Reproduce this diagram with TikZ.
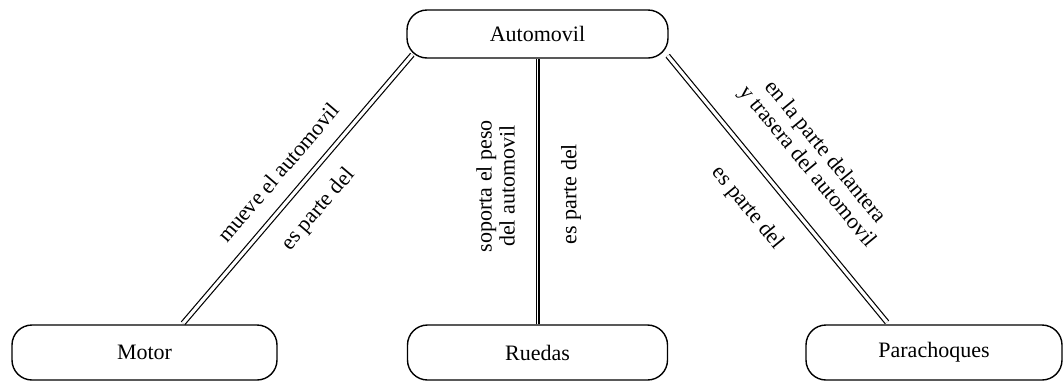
\documentclass[tikz,border=0pt]{standalone}
\usepackage{fontspec}
\setmainfont{Liberation Serif}
\usetikzlibrary{calc}
\begin{document}
\begin{tikzpicture}[x=1pt,y=-1pt,
  concept/.style={draw, line width=1.4pt, rounded corners=20pt, inner sep=0pt,
    minimum height=55pt, font=\fontsize{22}{26}\selectfont},
  link/.style={double, line width=1.2pt, double distance=3.2pt},
  lbl/.style={sloped, inner sep=0pt, align=center, font=\fontsize{22}{23}\selectfont}]
\useasboundingbox (0,0) rectangle (1063,381);

% concepts
\node[concept, minimum width=261pt, minimum height=48pt] (auto) at (537.5,34) {Automovil};
\node[concept, minimum width=265pt] (motor) at (144.5,352.5) {Motor};
\node[concept, minimum width=260pt] (ruedas) at (537.5,352.5) {Ruedas};
\node[concept, minimum width=256pt] (parach) at (934,352.5) {Parachoques};

% relations
\draw[link] ($(motor.north)+(38.5,-1)$)
  -- node[lbl, pos=0.5, above=17pt] {mueve el automovil}
     node[lbl, pos=0.494, below=19pt] {es parte del}
  ($(auto.south west)+(6,-4)$);

\draw[link, double distance=1.6pt] (ruedas.north)
  -- node[lbl, pos=0.52, above=22pt] {soporta el peso\\del automovil}
     node[lbl, pos=0.49, below=23pt] {es parte del}
  (auto.south);

\draw[link] ($(auto.south east)+(-1,-3)$)
  -- node[lbl, pos=0.505, above=26pt] {en la parte delantera\\y trasera del automovil}
     node[lbl, pos=0.487, below=25pt] {es parte del}
  ($(parach.north)+(-47,-2)$);
\end{tikzpicture}
\end{document}
